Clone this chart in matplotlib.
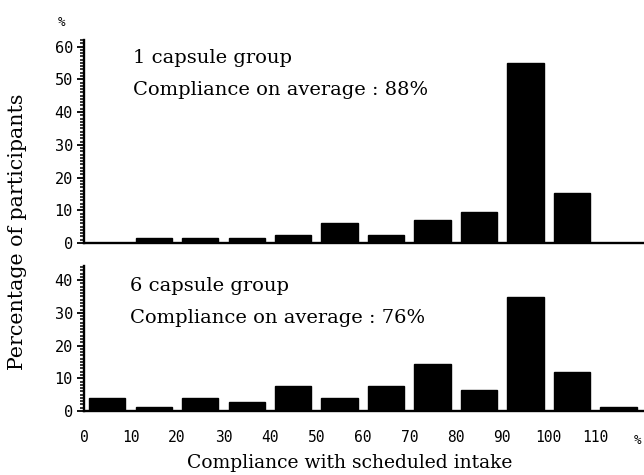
import matplotlib
matplotlib.use("Agg")
import matplotlib.pyplot as plt
from matplotlib.ticker import MultipleLocator
import numpy as np

# compliance bins (lower edge, %)
bins = [0, 10, 20, 30, 40, 50, 60, 70, 80, 90, 100, 110]
one_capsule = [0, 1.4, 1.4, 1.4, 2.4, 6.0, 2.5, 7.1, 9.4, 55.0, 15.3, 0]
six_capsule = [3.9, 1.3, 3.9, 2.7, 7.7, 3.9, 7.7, 14.3, 6.5, 34.9, 11.8, 1.1]
x_ticks = [0, 10, 20, 30, 40, 50, 60, 70, 80, 90, 100, 110]

serif = "DejaVu Serif"
mono = "DejaVu Sans Mono"

fig = plt.figure(figsize=(6.44, 4.75), dpi=100)
ax1 = fig.add_axes([84 / 644, (475 - 243) / 475, 560 / 644, 203 / 475])
ax2 = fig.add_axes([84 / 644, (475 - 411) / 475, 560 / 644, 145 / 475])

centers = np.array(bins) + 5
for ax, vals, top in [(ax1, one_capsule, 62), (ax2, six_capsule, 44.3)]:
    ax.bar(centers, vals, width=7.8, color="black", edgecolor="black")
    ax.set_xlim(0, 120.5)
    ax.set_ylim(0, top)
    for s in ["top", "right"]:
        ax.spines[s].set_visible(False)
    for s in ["left", "bottom"]:
        ax.spines[s].set_linewidth(1.7)
    ax.yaxis.set_major_locator(MultipleLocator(10))
    ax.yaxis.set_minor_locator(MultipleLocator(1))
    ax.tick_params(axis="y", which="major", direction="out", length=5, width=1.3, pad=3)
    ax.tick_params(axis="y", which="minor", direction="out", length=3, width=1.1)
    for lab in ax.get_yticklabels():
        lab.set_fontfamily(mono)
        lab.set_fontsize(11)

ax1.set_xticks([])
ax2.set_xticks(x_ticks)
ax2.tick_params(axis="x", length=0, pad=14)
for lab in ax2.get_xticklabels():
    lab.set_fontfamily(mono)
    lab.set_fontsize(10.5)

# group captions
cap = dict(fontfamily=serif, fontsize=14, va="center")
ax1.text(0.087, 0.91, "1 capsule group", transform=ax1.transAxes, **cap)
ax1.text(0.087, 0.755, "Compliance on average : 88%", transform=ax1.transAxes, **cap)
ax2.text(0.082, 0.86, "6 capsule group", transform=ax2.transAxes, **cap)
ax2.text(0.082, 0.64, "Compliance on average : 76%", transform=ax2.transAxes, **cap)

# unit marks
fig.text(62 / 644, 1 - 23 / 475, "%", fontfamily=mono, fontsize=9, ha="center", va="center")
fig.text(638 / 644, 1 - 440 / 475, "%", fontfamily=mono, fontsize=9, ha="center", va="center")

fig.text(350 / 644, 1 - 463 / 475, "Compliance with scheduled intake",
         fontfamily=serif, fontsize=13.5, ha="center", va="center")
fig.text(18 / 644, 1 - 232 / 475, "Percentage of participants",
         fontfamily=serif, fontsize=14.8, ha="center", va="center", rotation=90)

fig.savefig("out.png", dpi=100)
